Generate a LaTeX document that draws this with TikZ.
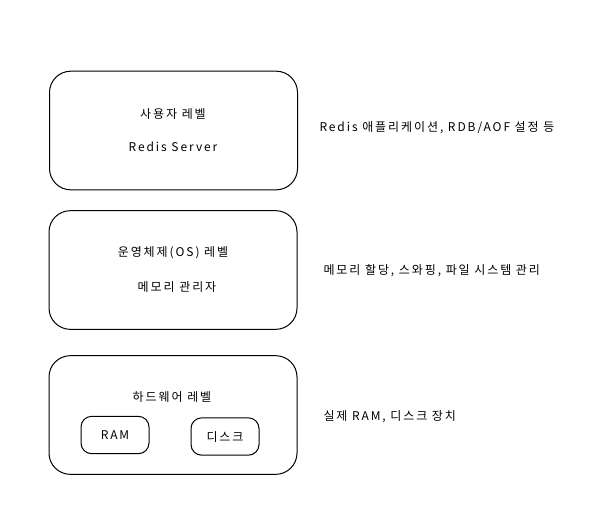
\documentclass[tikz,border=0pt]{standalone}
\usepackage{fontspec}
\setmainfont{Noto Sans CJK KR}[LetterSpace=16]
\begin{document}
\tikzset{every picture/.style={line width=0.75pt}}
\tikzset{
  layerbox/.style={draw, rounded corners=16pt, minimum width=186pt, minimum height=89pt, inner sep=0pt},
  devbox/.style={draw, rounded corners=8pt, minimum width=51pt, minimum height=28pt, inner sep=0pt},
  txt/.style={inner sep=0.75pt, font=\fontsize{9}{11}\selectfont}
}
\begin{tikzpicture}[x=0.75pt,y=0.75pt,yscale=-1,xscale=1]
        \path[use as bounding box] (0,0) rectangle (602,512);
        %Shape: Rounded Rect [id:user]
        \node [layerbox] (user) at (173.5,130.5) {};
        %Shape: Rounded Rect [id:os]
        \node [layerbox] (os) at (173,270) {};
        %Shape: Rounded Rect [id:hw]
        \node [layerbox] (hw) at (173,415) {};
        %Shape: Rounded Rect [id:ram]
        \node [devbox] (ram) at (115,435) {};
        %Shape: Rounded Rect [id:disk]
        \node [devbox] (disk) at (225,436.5) {};

        % Text Node
        \node [txt] (userT) at (173,114) {사용자 레벨};
        % Text Node
        \node [txt] (redisT) at (173,147) {Redis Server};
        % Text Node
        \node [txt] (osT) at (173,253) {운영체제(OS) 레벨};
        % Text Node
        \node [txt] (mmT) at (177,287) {메모리 관리자};
        % Text Node
        \node [txt] (hwT) at (172,397) {하드웨어 레벨};
        % Text Node
        \node [txt] (ramT) at (ram) {RAM};
        % Text Node
        \node [txt] (diskT) at (disk) {디스크};
        % Text Node
        \node [txt, anchor=west] (userD) at (318,128) {Redis 애플리케이션, RDB/AOF 설정 등};
        % Text Node
        \node [txt, anchor=west] (osD) at (322,271) {메모리 할당, 스와핑, 파일 시스템 관리};
        % Text Node
        \node [txt, anchor=west] (hwD) at (322,417) {실제 RAM, 디스크 장치};
\end{tikzpicture}
\end{document}
